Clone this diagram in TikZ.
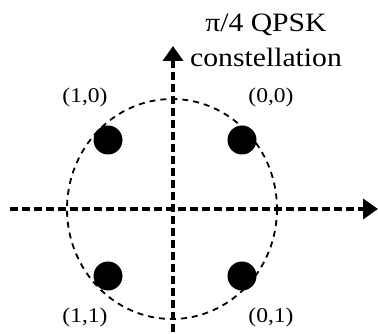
\documentclass[tikz,border=0pt]{standalone}
\usepackage{fontspec}
\setmainfont[FakeStretch=1.12]{Liberation Serif}
\usetikzlibrary{arrows.meta}
\tikzset{
  axis/.style={line width=4.2pt, dash pattern=on 8pt off 4pt, -{Triangle[length=15pt,width=20pt]}},
  ring/.style={line width=1.8pt, dash pattern=on 6pt off 5pt},
  symb/.style={circle, fill=black, inner sep=0pt, minimum size=29pt},
  lbl/.style={font=\fontsize{21}{24}\selectfont, inner sep=0pt},
  ttl/.style={font=\fontsize{26.5}{35}\selectfont, align=center, inner sep=0pt}
}
\begin{document}
\begin{tikzpicture}[x=1pt,y=-1pt]
\useasboundingbox (0,0) rectangle (378,334);
\coordinate (o) at (172,209);
\coordinate (xs) at (10,209);
\coordinate (xe) at (378,209);
\coordinate (ys) at (173,332);
\coordinate (ye) at (173,46);
\draw[ring] (o) ellipse [x radius=105, y radius=110];
\draw[axis] (xs) -- (xe);
\draw[axis] (ys) -- (ye);
\node[symb] (s10) at (108,140) {};
\node[symb] (s00) at (242,140) {};
\node[symb] (s11) at (108,276) {};
\node[symb] (s01) at (242,276) {};
\node[lbl] (l10) at (85,97) {(1,0)};
\node[lbl] (l00) at (271,97) {(0,0)};
\node[lbl] (l11) at (85,317) {(1,1)};
\node[lbl] (l01) at (271,317) {(0,1)};
\node[ttl] (t) at (266,40) {π/4 QPSK\\constellation};
\end{tikzpicture}
\end{document}
